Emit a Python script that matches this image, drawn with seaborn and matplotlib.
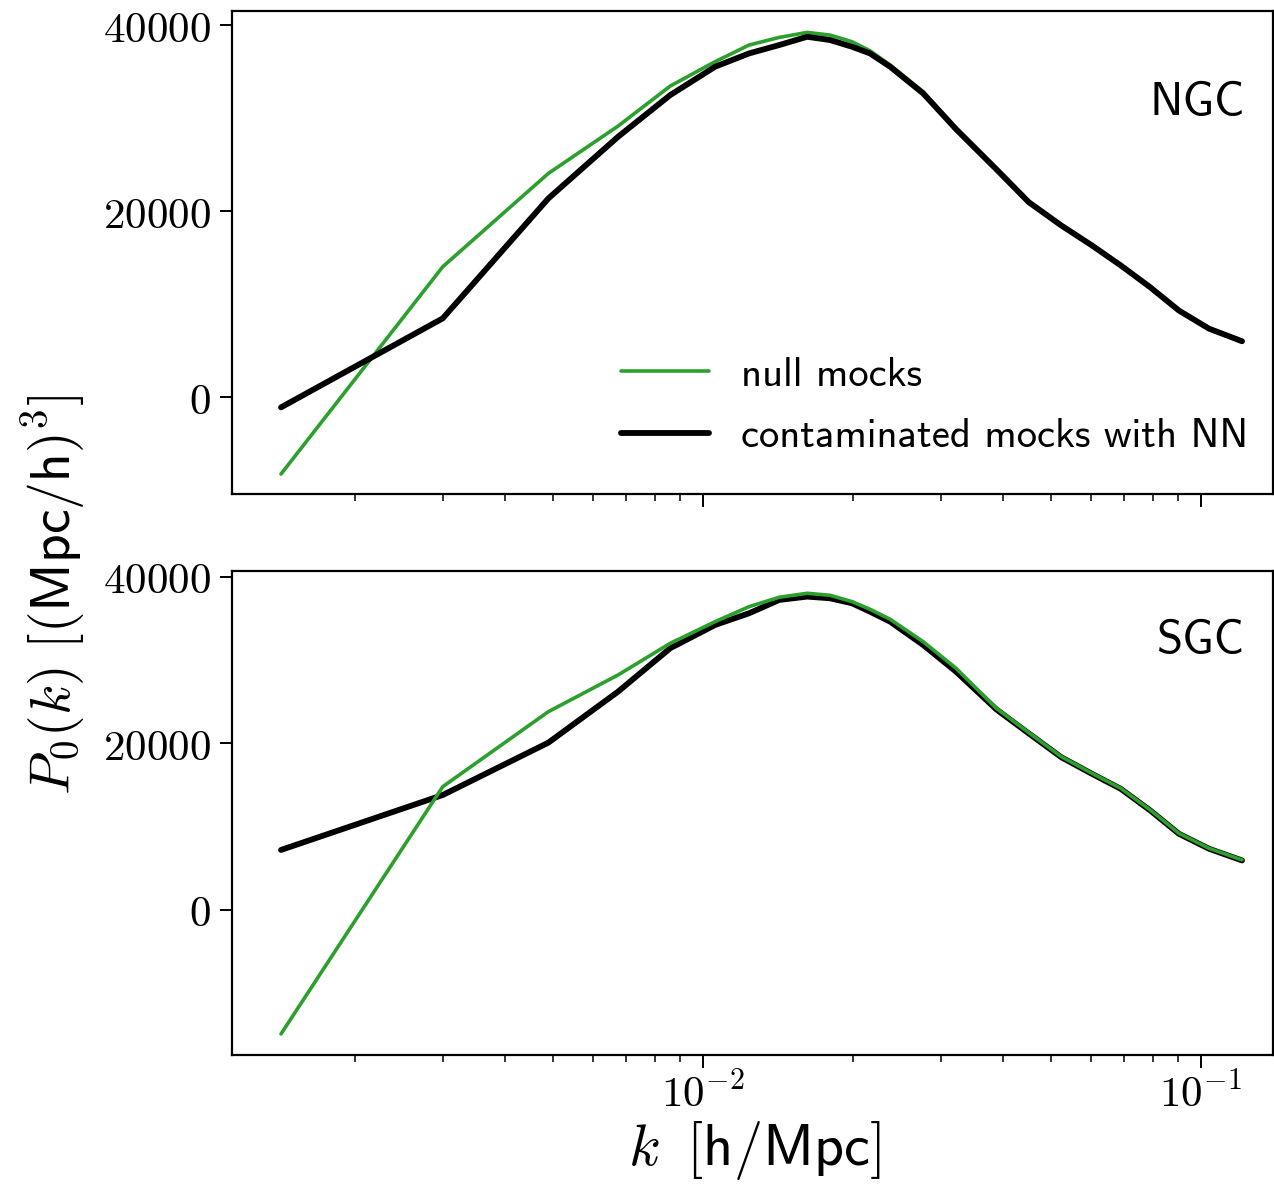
import numpy as np
import pandas as pd
import matplotlib
matplotlib.use("Agg")
import matplotlib.pyplot as plt
import matplotlib.ticker as mticker
import seaborn as sns

# ---- data ----
k = [0.00142, 0.00300, 0.00489, 0.00675, 0.00859, 0.01057, 0.01237, 0.01422,
     0.01618, 0.01799, 0.0199, 0.02164, 0.02375, 0.02767, 0.03222, 0.0388,
     0.0451, 0.0524, 0.0604, 0.0690, 0.0791, 0.0903, 0.1038, 0.1209]

ngc_null = [-8280, 14010, 24050, 29140, 33440, 36060, 37850, 38670, 39210, 38920,
            38210, 37240, 35700, 32830, 28890, 24590, 21000, 18490, 16340, 14190,
            11860, 9350, 7380, 6050]
ngc_nn = [-1110, 8460, 21360, 27990, 32470, 35520, 36950, 37850, 38740, 38390,
          37670, 36950, 35520, 32650, 28800, 24500, 20950, 18450, 16300, 14150,
          11800, 9300, 7350, 6000]

sgc_null = [-14890, 14810, 23820, 28230, 32030, 34630, 36430, 37560, 38040, 37800,
            37040, 36120, 34920, 32230, 29030, 24230, 21300, 18420, 16420, 14620,
            12010, 9210, 7410, 6010]
sgc_nn = [7210, 13810, 20100, 26230, 31440, 34230, 35640, 37240, 37640, 37440,
          36840, 35830, 34630, 31830, 28620, 24100, 21200, 18350, 16350, 14550,
          11950, 9150, 7350, 5950]

labels = ["null mocks", "contaminated mocks with NN"]
panel_names = ["NGC", "SGC"]
yticks = [0, 20000, 40000]

sns.set_theme(style="ticks")
plt.rcParams.update({
    "mathtext.fontset": "cm",
    "axes.linewidth": 1.6,
    "xtick.major.width": 1.4,
    "ytick.major.width": 1.4,
    "xtick.minor.width": 1.1,
    "xtick.major.size": 9,
    "ytick.major.size": 9,
    "xtick.minor.size": 5,
    "axes.edgecolor": "black",
    "text.color": "black",
    "axes.labelcolor": "black",
    "xtick.color": "black",
    "ytick.color": "black",
})

GREEN = "#2ca02c"
fig = plt.figure(figsize=(12.74, 11.89), dpi=100)
ax1 = fig.add_axes([0.1821, 0.5845, 0.8171, 0.4062])
ax2 = fig.add_axes([0.1821, 0.1127, 0.8171, 0.4071], sharex=ax1)

df_n = pd.DataFrame({"k": k, "null": ngc_null, "nn": ngc_nn})
df_s = pd.DataFrame({"k": k, "null": sgc_null, "nn": sgc_nn})

sns.lineplot(data=df_n, x="k", y="null", ax=ax1, color=GREEN, lw=2.6, label=labels[0], zorder=2)
sns.lineplot(data=df_n, x="k", y="nn", ax=ax1, color="black", lw=4.2, label=labels[1], zorder=3)
sns.lineplot(data=df_s, x="k", y="nn", ax=ax2, color="black", lw=4.2, zorder=2)
sns.lineplot(data=df_s, x="k", y="null", ax=ax2, color=GREEN, lw=2.6, zorder=3)

for ax, name, ty in [(ax1, panel_names[0], 0.81), (ax2, panel_names[1], 0.855)]:
    ax.set_xscale("log")
    ax.set_xlim(0.001132, 0.1395)
    ax.yaxis.set_major_locator(mticker.FixedLocator(yticks))
    ax.yaxis.set_major_formatter(mticker.FuncFormatter(lambda v, p: r"$%d$" % v))
    ax.set_xlabel("")
    ax.set_ylabel("")
    ax.tick_params(axis="y", labelsize=31, pad=6)
    ax.tick_params(axis="x", which="both", labelsize=31)
    ax.text(0.973, ty, name, transform=ax.transAxes, ha="right", va="center",
            fontsize=34, family="cmss10")
    for s in ax.spines.values():
        s.set_visible(True)

ax1.set_ylim(-10430, 41505)
ax2.set_ylim(-17420, 40720)
ax1.tick_params(axis="x", which="both", labelbottom=False)
ax2.xaxis.set_major_locator(mticker.FixedLocator([0.01, 0.1]))
ax2.xaxis.set_major_formatter(mticker.FixedFormatter([r"$10^{-2}$", r"$10^{-1}$"]))
ax2.xaxis.set_minor_formatter(mticker.NullFormatter())

leg = ax1.legend(loc="lower right", frameon=False, prop={"family": "cmss10", "size": 29.3},
                 handlelength=2.16, handletextpad=0.79, labelspacing=0.6,
                 borderaxespad=0.2, bbox_to_anchor=(1.0, 0.03))

fig.text(0.592, 0.032, r"$k\;\;\mathsf{[h/Mpc]}$", ha="center", va="center", fontsize=42)
fig.text(0.042, 0.5, r"$P_0(k)\ \mathsf{[(Mpc/h)}^3\mathsf{]}$", ha="center",
         va="center", rotation=90, fontsize=40)

fig.savefig("out.png", dpi=100)
